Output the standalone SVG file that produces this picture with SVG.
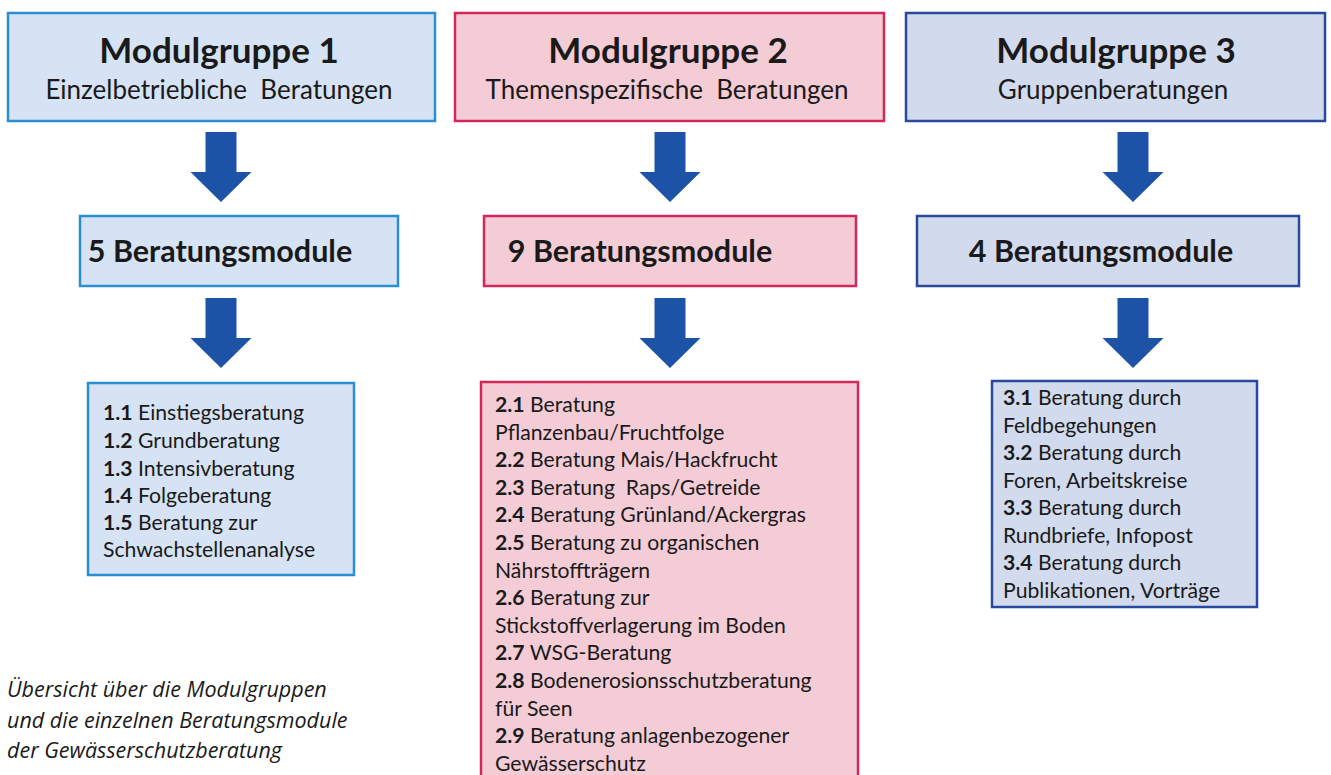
<svg xmlns="http://www.w3.org/2000/svg" width="1331" height="775" viewBox="0 0 1331 775">
<defs>
<style>
.b1{fill:#d5e3f4;stroke:#2b8ed0;stroke-width:2.5}
.b2{fill:#f3ccd6;stroke:#d3275a;stroke-width:2.5}
.b3{fill:#d2dbee;stroke:#28499c;stroke-width:2.5}
.t{font-family:Lato,"Liberation Sans",sans-serif;fill:#1a1a1a}
.h{font-size:35px;font-weight:bold;text-anchor:middle}
.s{font-size:26px;text-anchor:middle}
.m{font-size:30.5px;font-weight:bold;text-anchor:middle}
.l{font-size:21.2px}
.l tspan.n{font-weight:bold}
.arr{fill:#1d53a6}
.cap{font-family:"Open Sans","Noto Sans",sans-serif;font-style:italic;font-size:21.5px;fill:#1a1a1a}
</style>
<path id="ar" d="M-15.5,0 H15.5 V40 H30.5 L0,70 L-30.5,40 H-15.5 Z"/>
</defs>
<rect width="1331" height="775" fill="#ffffff"/>

<g id="connectors" class="arr">
<use href="#ar" x="221" y="132"/>
<use href="#ar" x="221" y="298"/>
<use href="#ar" x="670" y="132"/>
<use href="#ar" x="670" y="298"/>
<use href="#ar" x="1133" y="132"/>
<use href="#ar" x="1133" y="298"/>
</g>

<g id="mg1">
<rect class="b1" x="8" y="13" width="427" height="108"/>
<text class="t h" x="219" y="63">Modulgruppe 1</text>
<text class="t s" x="219" y="99" xml:space="preserve">Einzelbetriebliche  Beratungen</text>
</g>
<g id="mg2">
<rect class="b2" x="455" y="13" width="429" height="108"/>
<text class="t h" x="668" y="63">Modulgruppe 2</text>
<text class="t s" x="667" y="99" xml:space="preserve">Themenspezifische  Beratungen</text>
</g>
<g id="mg3">
<rect class="b3" x="906" y="13" width="419" height="108"/>
<text class="t h" x="1116" y="63">Modulgruppe 3</text>
<text class="t s" x="1113" y="99">Gruppenberatungen</text>
</g>

<g id="bm1">
<rect class="b1" x="80" y="216" width="318" height="70"/>
<text class="t m" x="220" y="262">5 Beratungsmodule</text>
</g>
<g id="bm2">
<rect class="b2" x="484" y="216" width="372" height="70"/>
<text class="t m" x="640" y="262">9 Beratungsmodule</text>
</g>
<g id="bm3">
<rect class="b3" x="917" y="216" width="382" height="70"/>
<text class="t m" x="1101" y="262">4 Beratungsmodule</text>
</g>

<g id="list1">
<rect class="b1" x="88" y="383" width="266" height="192"/>
<text class="t l" x="103" y="420"><tspan class="n">1.1</tspan> Einstiegsberatung</text>
<text class="t l" x="103" y="448"><tspan class="n">1.2</tspan> Grundberatung</text>
<text class="t l" x="103" y="476"><tspan class="n">1.3</tspan> Intensivberatung</text>
<text class="t l" x="103" y="503"><tspan class="n">1.4</tspan> Folgeberatung</text>
<text class="t l" x="103" y="530"><tspan class="n">1.5</tspan> Beratung zur</text>
<text class="t l" x="103" y="557">Schwachstellenanalyse</text>
</g>

<g id="list2">
<rect class="b2" x="481" y="382" width="377" height="405"/>
<text class="t l" x="495" y="412"><tspan class="n">2.1</tspan> Beratung</text>
<text class="t l" x="495" y="439.6">Pflanzenbau/Fruchtfolge</text>
<text class="t l" x="495" y="467.2"><tspan class="n">2.2</tspan> Beratung Mais/Hackfrucht</text>
<text class="t l" x="495" y="494.8" xml:space="preserve"><tspan class="n">2.3</tspan> Beratung  Raps/Getreide</text>
<text class="t l" x="495" y="522.4"><tspan class="n">2.4</tspan> Beratung Grünland/Ackergras</text>
<text class="t l" x="495" y="550"><tspan class="n">2.5</tspan> Beratung zu organischen</text>
<text class="t l" x="495" y="577.6">Nährstoffträgern</text>
<text class="t l" x="495" y="605.2"><tspan class="n">2.6</tspan> Beratung zur</text>
<text class="t l" x="495" y="632.8">Stickstoffverlagerung im Boden</text>
<text class="t l" x="495" y="660.4"><tspan class="n">2.7</tspan> WSG-Beratung</text>
<text class="t l" x="495" y="688"><tspan class="n">2.8</tspan> Bodenerosionsschutzberatung</text>
<text class="t l" x="495" y="715.6">für Seen</text>
<text class="t l" x="495" y="743.2"><tspan class="n">2.9</tspan> Beratung anlagenbezogener</text>
<text class="t l" x="495" y="770.8">Gewässerschutz</text>
</g>

<g id="list3">
<rect class="b3" x="992" y="381" width="265" height="226"/>
<text class="t l" x="1003" y="405"><tspan class="n">3.1</tspan> Beratung durch</text>
<text class="t l" x="1003" y="433">Feldbegehungen</text>
<text class="t l" x="1003" y="460"><tspan class="n">3.2</tspan> Beratung durch</text>
<text class="t l" x="1003" y="488">Foren, Arbeitskreise</text>
<text class="t l" x="1003" y="515"><tspan class="n">3.3</tspan> Beratung durch</text>
<text class="t l" x="1003" y="543">Rundbriefe, Infopost</text>
<text class="t l" x="1003" y="570"><tspan class="n">3.4</tspan> Beratung durch</text>
<text class="t l" x="1003" y="598">Publikationen, Vorträge</text>
</g>

<g id="caption">
<text class="cap" x="7" y="697">Übersicht über die Modulgruppen</text>
<text class="cap" x="7" y="728">und die einzelnen Beratungsmodule</text>
<text class="cap" x="7" y="758">der Gewässerschutzberatung</text>
</g>
</svg>
